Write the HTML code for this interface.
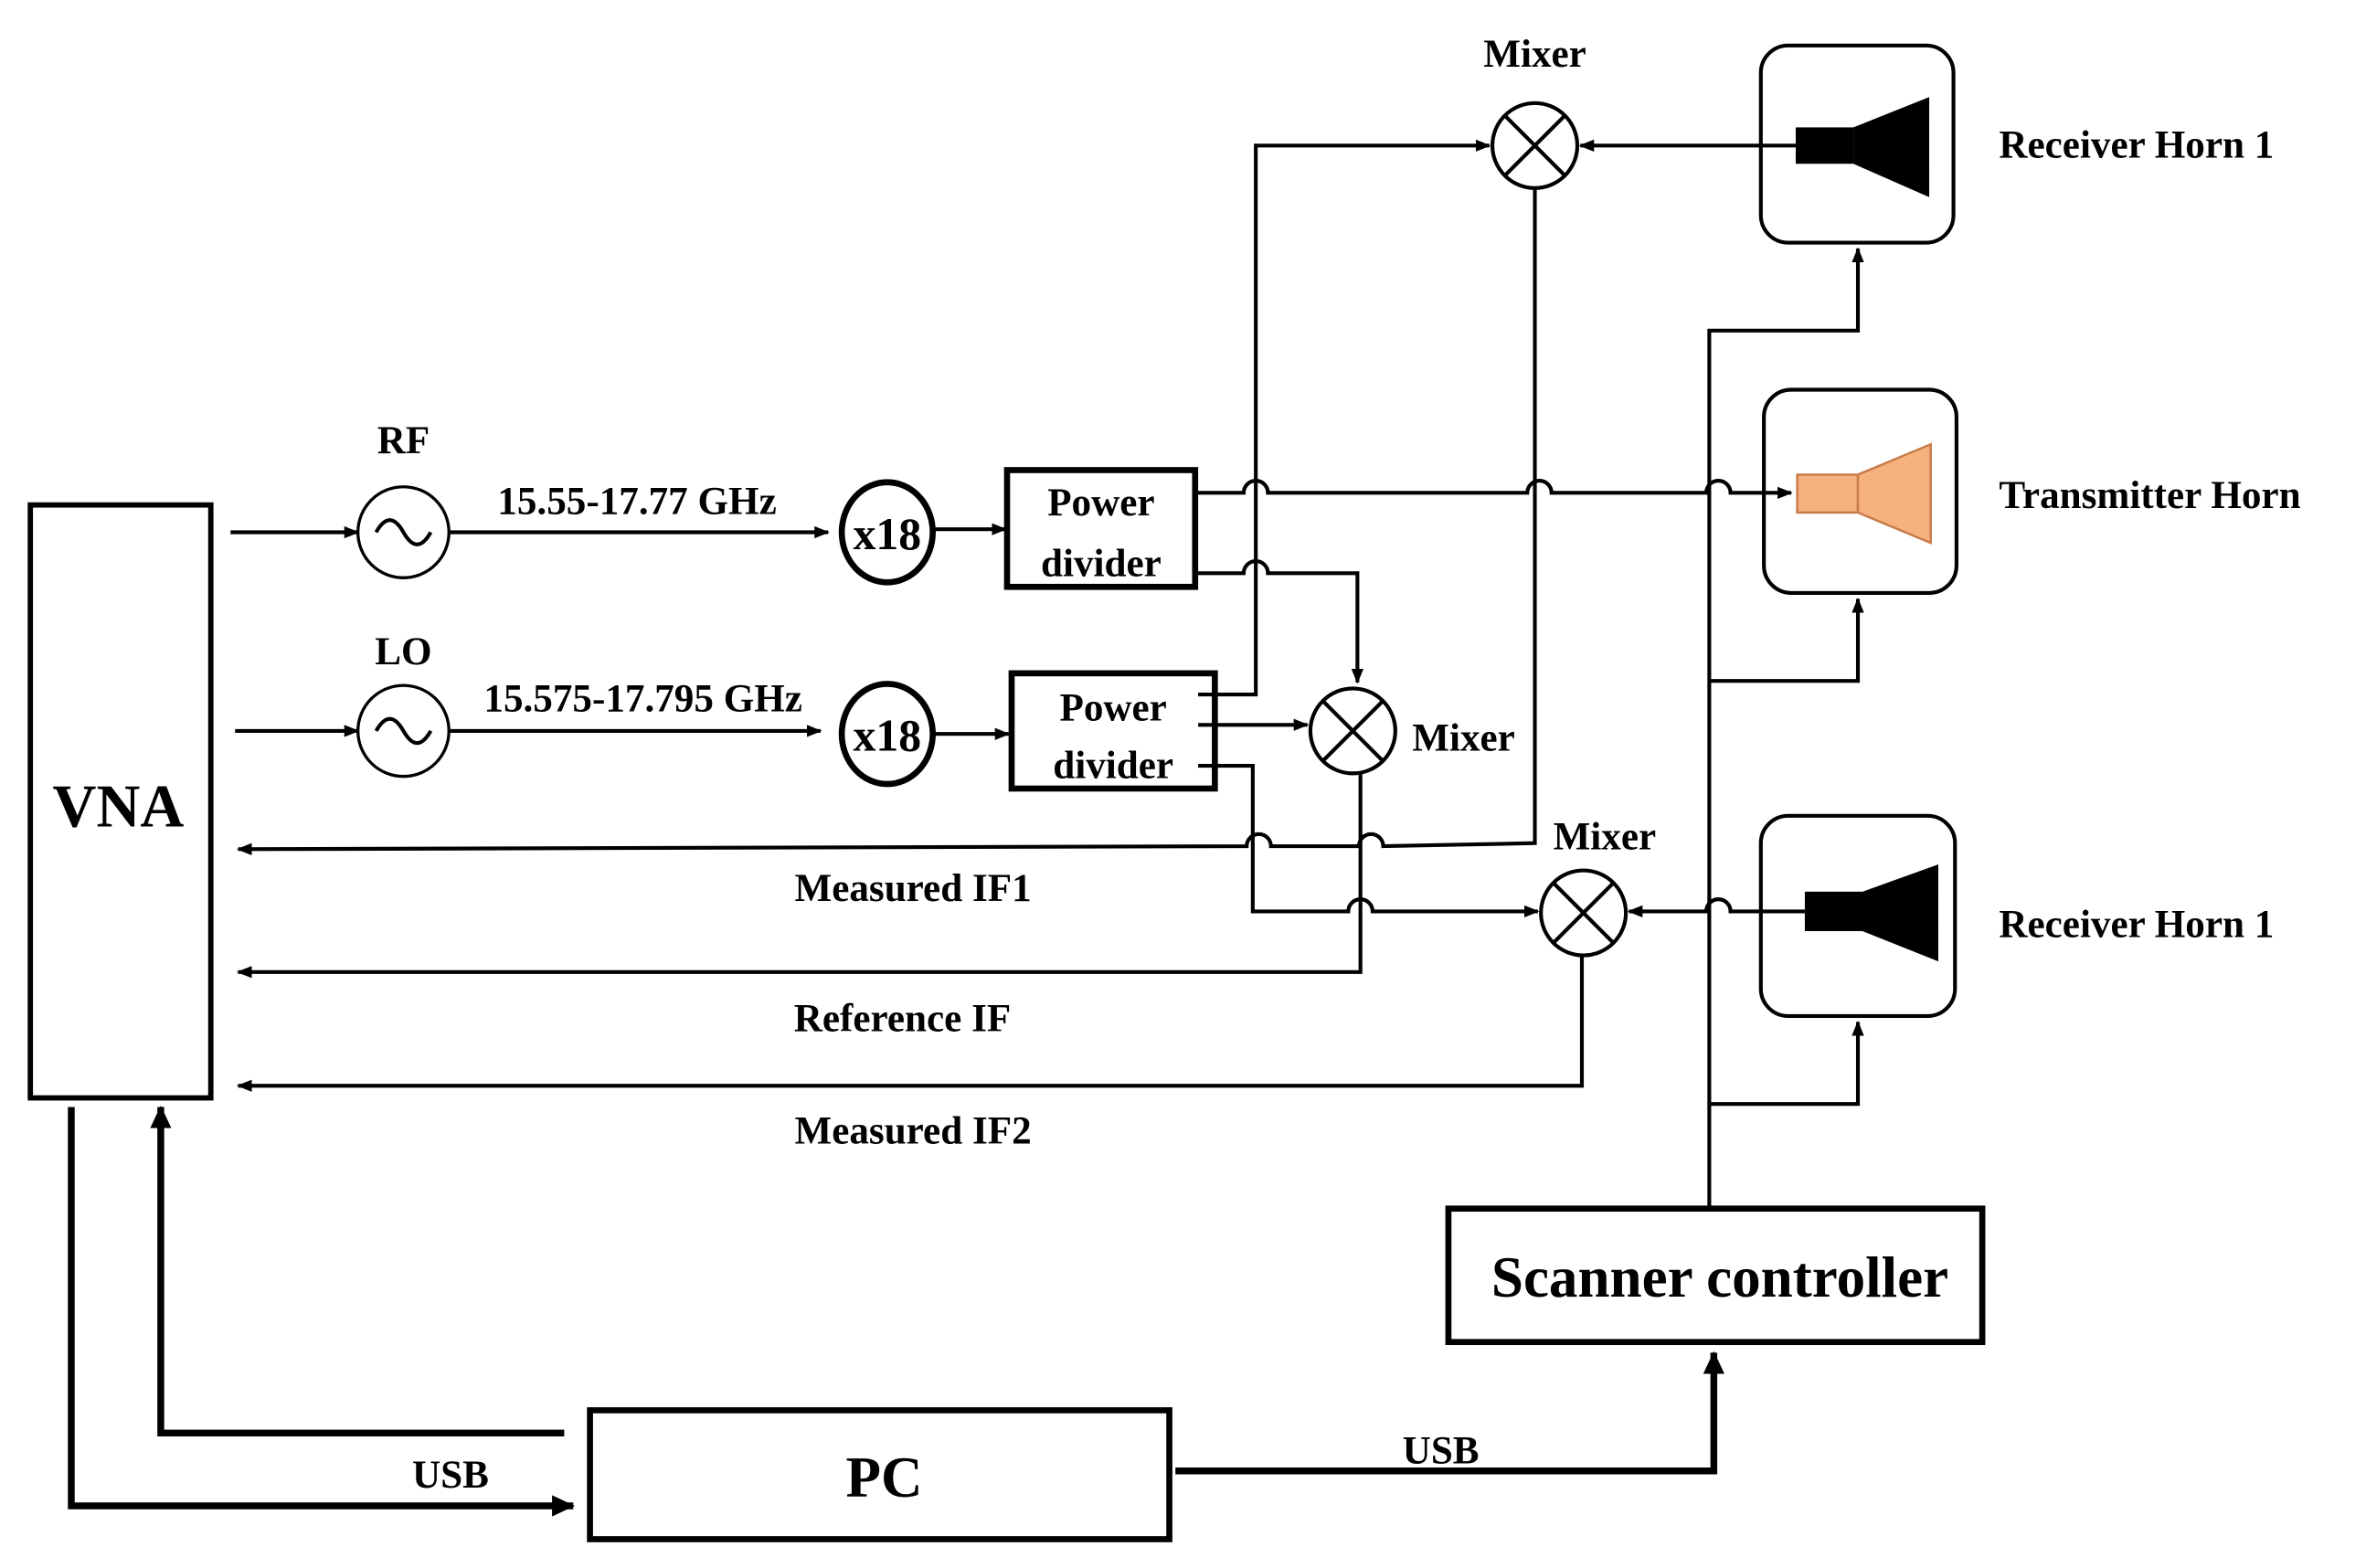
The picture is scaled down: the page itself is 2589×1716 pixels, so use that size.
<!DOCTYPE html>
<html><head><meta charset="utf-8"><style>
html,body{margin:0;padding:0;background:#fff;}
svg{display:block;}
text{font-family:"Liberation Serif",serif;font-weight:bold;fill:#000;}
</style></head><body>
<svg width="2589" height="1716" viewBox="0 0 1560 1034" preserveAspectRatio="none" xmlns="http://www.w3.org/2000/svg">
<defs>
<marker id="a" markerWidth="10" markerHeight="10" refX="9" refY="5" orient="auto" markerUnits="userSpaceOnUse"><path d="M0,1 L10,5 L0,9 z" fill="#000"/></marker>
<marker id="b" markerWidth="16" markerHeight="16" refX="14" refY="8" orient="auto" markerUnits="userSpaceOnUse"><path d="M0,1 L15,8 L0,15 z" fill="#000"/></marker>
</defs>
<rect width="1560" height="1034" fill="#fff"/>
<g fill="none" stroke="#000" stroke-width="2.5">
<rect x="20" y="333" width="119" height="391" stroke-width="3.5"/>
<circle cx="266" cy="351" r="30" stroke-width="2"/>
<path d="M248,351 q9,-16 18,0 t18,0"/>
<circle cx="266" cy="482" r="30" stroke-width="2"/>
<path d="M248,482 q9,-16 18,0 t18,0"/>
<line x1="152" y1="351" x2="236" y2="351" marker-end="url(#a)"/>
<line x1="155" y1="482" x2="236" y2="482" marker-end="url(#a)"/>
<line x1="296" y1="351" x2="546" y2="351" marker-end="url(#a)"/>
<line x1="296" y1="482" x2="541" y2="482" marker-end="url(#a)"/>
<ellipse cx="585" cy="351" rx="30" ry="33" stroke-width="4"/>
<ellipse cx="585" cy="484" rx="30" ry="33" stroke-width="4"/>
<line x1="615" y1="349" x2="663" y2="349" marker-end="url(#a)"/>
<line x1="615" y1="484" x2="665" y2="484" marker-end="url(#a)"/>
<rect x="664" y="310" width="124" height="77" stroke-width="4"/>
<rect x="667" y="444" width="134" height="76" stroke-width="4"/>
<circle cx="1012" cy="96" r="28"/><path d="M992,76 L1032,116 M1032,76 L992,116"/>
<circle cx="892" cy="482" r="28"/><path d="M872,462 L912,502 M912,462 L872,502"/>
<circle cx="1044" cy="602" r="28"/><path d="M1024,582 L1064,622 M1064,582 L1024,622"/>
<rect x="1161" y="30" width="127" height="130" rx="18"/>
<rect x="1163" y="257" width="127" height="134" rx="18"/>
<rect x="1161" y="538" width="128" height="132" rx="18"/>
<path d="M788,325 H820 a8,8 0 0 1 16,0 H1007 a8,8 0 0 1 16,0 H1125 a8,8 0 0 1 16,0 H1181" marker-end="url(#a)"/>
<path d="M788,378 H820 a8,8 0 0 1 16,0 H895 V450" marker-end="url(#a)"/>
<path d="M790,458 H828 V96 H982" marker-end="url(#a)"/>
<line x1="790" y1="478" x2="862" y2="478" marker-end="url(#a)"/>
<path d="M790,505 H826 V601 H889 a8,8 0 0 1 16,0 H1014" marker-end="url(#a)"/>
<line x1="1184" y1="96" x2="1042" y2="96" marker-end="url(#a)"/>
<path d="M1190,601 H1141 a8,8 0 0 0 -16,0 H1074" marker-end="url(#a)"/>
<path d="M1012,124 V556 L912,558 a8,8 0 0 0 -16,0 H838 a8,8 0 0 0 -16,0 L157,560" marker-end="url(#a)"/>
<path d="M897,510 V641 H157" marker-end="url(#a)"/>
<path d="M1043,630 V716 H157" marker-end="url(#a)"/>
<path d="M1127,797 V218 H1225 V164" marker-end="url(#a)"/>
<path d="M1127,449 H1225 V395" marker-end="url(#a)"/>
<path d="M1127,728 H1225 V674" marker-end="url(#a)"/>
<rect x="955" y="797" width="352" height="88" stroke-width="4"/>
<rect x="389" y="930" width="382" height="85" stroke-width="4"/>
<path d="M47,730 V993 H378" stroke-width="4.5" marker-end="url(#b)"/>
<path d="M372,945 H106 V730" stroke-width="4.5" marker-end="url(#b)"/>
<path d="M775,970 H1130 V892" stroke-width="4.5" marker-end="url(#b)"/>
</g>
<rect x="1184" y="84" width="38" height="24" fill="#000"/>
<polygon points="1222,84 1272,64 1272,130 1222,108" fill="#000"/>
<rect x="1185" y="313" width="40" height="25" fill="#f5b27f" stroke="#c87c4a" stroke-width="1.5"/>
<polygon points="1225,313 1273,293 1273,358 1225,338" fill="#f5b27f" stroke="#c87c4a" stroke-width="1.5"/>
<rect x="1190" y="588" width="38" height="26" fill="#000"/>
<polygon points="1228,588 1278,570 1278,634 1228,614" fill="#000"/>
<g font-size="26" text-anchor="middle">
<text x="78" y="545" font-size="40">VNA</text>
<text x="266" y="299">RF</text>
<text x="266" y="438">LO</text>
<text x="420" y="339">15.55-17.77 GHz</text>
<text x="424" y="469">15.575-17.795 GHz</text>
<text x="585" y="362" font-size="30">x18</text>
<text x="585" y="495" font-size="30">x18</text>
<text x="726" y="340">Power</text>
<text x="726" y="380">divider</text>
<text x="734" y="475">Power</text>
<text x="734" y="513">divider</text>
<text x="1012" y="44">Mixer</text>
<text x="965" y="495">Mixer</text>
<text x="1058" y="560">Mixer</text>
<text x="1318" y="104" text-anchor="start">Receiver Horn 1</text>
<text x="1318" y="335" text-anchor="start">Transmitter Horn</text>
<text x="1318" y="618" text-anchor="start">Receiver Horn 1</text>
<text x="602" y="594">Measured IF1</text>
<text x="595" y="680">Reference IF</text>
<text x="602" y="754">Measured IF2</text>
<text x="1134" y="855" font-size="38">Scanner controller</text>
<text x="583" y="987" font-size="38">PC</text>
<text x="297" y="981">USB</text>
<text x="950" y="965">USB</text>
</g>
</svg>
</body></html>
